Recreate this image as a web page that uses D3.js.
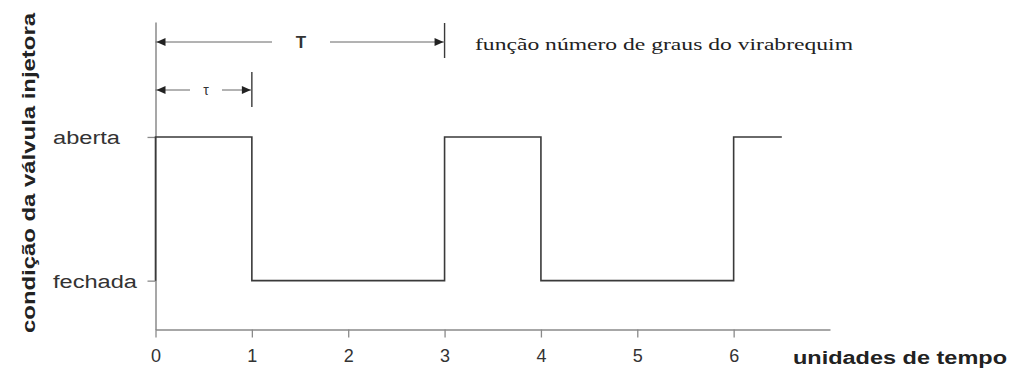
<!DOCTYPE html>
<html>
<head>
<meta charset="utf-8">
<script src="https://cdn.jsdelivr.net/npm/d3@7"></script>
<style>
  body { margin: 0; background: #fff; }
  svg { display: block; }
  .serif { font-family: 'Liberation Serif', 'Times New Roman', serif; }
</style>
</head>
<body>
<svg id="drawing_region"></svg>
<script>
// valve signal: time (units) and state (0 = fechada, 1 = aberta)
const times = [0, 0, 1, 3, 4, 6, 6.5];
const states = [0, 1, 0, 1, 0, 1, 1];
const xTicks = [0, 1, 2, 3, 4, 5, 6];
const stateLabels = ['fechada', 'aberta'];
const xTitle = 'unidades de tempo';
const yTitle = 'condição da válvula injetora';
const note = 'função número de graus do virabrequim';
// dimension markers: [label, from, to]
const dims = [['T', 0, 3], ['τ', 0, 1]];

const config = {
    parent: '#drawing_region',
    width: 1009,
    height: 369
};

const svg = d3.select(config.parent)
    .attr('width', config.width)
    .attr('height', config.height);

const xscale = d3.scaleLinear().domain([0, 7]).range([155.5, 830]);
const yscale = d3.scaleLinear().domain([-0.34, 1.8]).range([329.5, 22]);

const axisColor = '#8a8a8a';
const lineColor = '#3a3a3a';
const sans = "'Liberation Sans', Arial, sans-serif";

// x axis
const xaxis = d3.axisBottom(xscale)
    .tickValues(xTicks)
    .tickSize(8)
    .tickSizeOuter(0)
    .tickPadding(12)
    .tickFormat(d3.format('d'));

const xg = svg.append('g')
    .attr('transform', `translate(0, ${yscale(-0.34)})`)
    .call(xaxis);
xg.select('.domain').attr('stroke', axisColor).attr('stroke-width', 1.5);
xg.selectAll('.tick line').attr('stroke', axisColor).attr('stroke-width', 1.3);
xg.selectAll('.tick text')
    .attr('font-family', sans)
    .attr('font-size', 18)
    .attr('fill', '#333');

// y axis
const yaxis = d3.axisLeft(yscale)
    .tickValues([0, 1])
    .tickSize(8)
    .tickSizeOuter(0)
    .tickFormat(d => stateLabels[d]);

const yg = svg.append('g')
    .attr('transform', `translate(${xscale(0)}, 0)`)
    .call(yaxis);
yg.select('.domain').attr('stroke', axisColor).attr('stroke-width', 1.5);
yg.selectAll('.tick line').attr('stroke', axisColor).attr('stroke-width', 1.3);
yg.selectAll('.tick text')
    .attr('font-family', sans)
    .attr('font-size', 18)
    .attr('fill', '#333')
    .attr('text-anchor', 'start')
    .attr('x', 53 - xscale(0))
    .attr('dy', '0.36em')
    .attr('textLength', d => d === 1 ? 67 : 84)
    .attr('lengthAdjust', 'spacingAndGlyphs');

// signal
const line = d3.line()
    .x(d => xscale(d[0]))
    .y(d => yscale(d[1]))
    .curve(d3.curveStepAfter);

svg.append('path')
    .attr('d', line(times.map((t, i) => [t, states[i]])))
    .attr('fill', 'none')
    .attr('stroke', lineColor)
    .attr('stroke-width', 1.6);

// axis titles
svg.append('text')
    .attr('x', 793)
    .attr('y', 364)
    .attr('font-family', sans)
    .attr('font-weight', 'bold')
    .attr('font-size', 18)
    .attr('fill', '#222')
    .attr('textLength', 214)
    .attr('lengthAdjust', 'spacingAndGlyphs')
    .text(xTitle);

svg.append('text')
    .attr('transform', 'translate(35, 333) rotate(-90)')
    .attr('font-family', sans)
    .attr('font-weight', 'bold')
    .attr('font-size', 19)
    .attr('fill', '#222')
    .attr('textLength', 320)
    .attr('lengthAdjust', 'spacingAndGlyphs')
    .text(yTitle);

// note
svg.append('text')
    .attr('class', 'serif')
    .attr('x', 475)
    .attr('y', 50)
    .attr('font-size', 17)
    .attr('fill', '#222')
    .attr('textLength', 378)
    .attr('lengthAdjust', 'spacingAndGlyphs')
    .text(note);

// dimension markers
const dimY = [42, 90];
const dimBar = [[23, 58], [72, 107]];
const dimGap = [[272, 330], [190, 222]];
const arrow = (x, y, dir) => {
    const l = 9, w = 4;
    return `M${x},${y} L${x - dir * l},${y - w} L${x - dir * l},${y + w} Z`;
};

dims.forEach((d, i) => {
    const g = svg.append('g');
    const x0 = xscale(d[1]), x1 = xscale(d[2]), y = dimY[i];
    g.append('line')
        .attr('x1', x1).attr('x2', x1)
        .attr('y1', dimBar[i][0]).attr('y2', dimBar[i][1])
        .attr('stroke', lineColor).attr('stroke-width', 1.4);
    g.append('line')
        .attr('x1', x0).attr('x2', dimGap[i][0])
        .attr('y1', y).attr('y2', y)
        .attr('stroke', '#666').attr('stroke-width', 1);
    g.append('line')
        .attr('x1', dimGap[i][1]).attr('x2', x1)
        .attr('y1', y).attr('y2', y)
        .attr('stroke', '#666').attr('stroke-width', 1);
    g.append('path').attr('d', arrow(x0 + 1, y, -1)).attr('fill', '#222');
    g.append('path').attr('d', arrow(x1 - 1, y, 1)).attr('fill', '#222');
    g.append('text')
        .attr('x', (dimGap[i][0] + dimGap[i][1]) / 2)
        .attr('y', y)
        .attr('dy', '0.36em')
        .attr('text-anchor', 'middle')
        .attr('font-family', sans)
        .attr('font-weight', i === 0 ? 'bold' : 'normal')
        .attr('font-size', i === 0 ? 17 : 14)
        .attr('fill', '#333')
        .text(d[0]);
});
</script>
</body>
</html>
